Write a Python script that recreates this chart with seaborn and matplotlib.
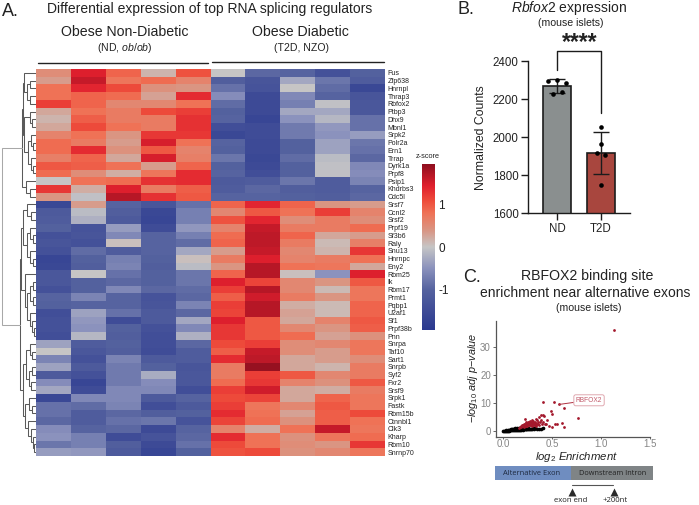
import numpy as np
import pandas as pd
import matplotlib
matplotlib.use("Agg")
import matplotlib.pyplot as plt
import seaborn as sns
from matplotlib.colors import LinearSegmentedColormap
from matplotlib.patches import Rectangle

sns.set_style("white")
plt.rcParams["font.family"] = ["Liberation Sans", "DejaVu Sans"]
plt.rcParams["mathtext.fontset"] = "custom"
plt.rcParams["mathtext.rm"] = "Liberation Sans"
plt.rcParams["mathtext.it"] = "Liberation Sans:italic"

W, H = 699, 505

# ---- panel A data
genes = ["Fus", "Zfp638", "Hnrnpl", "Thrap3", "Rbfox2", "Ptbp3", "Dhx9", "Mbnl1", "Srpk2", "Polr2a",
         "Ern1", "Trrap", "Dyrk1a", "Prpf8", "Psip1", "Khdrbs3", "Cdc5l", "Srsf7", "Ccnl2", "Srsf2",
         "Prpf19", "Sf3b6", "Raly", "Snu13", "Hnrnpc", "Eny2", "Rbm25", "Ik", "Rbm17", "Prmt1",
         "Pqbp1", "U2af1", "Sf1", "Prpf38b", "Pnn", "Snrpa", "Taf10", "Sart1", "Snrpb", "Syf2",
         "Fxr2", "Srsf9", "Srpk1", "Fastk", "Rbm15b", "Ctnnbl1", "Clk3", "Kharp", "Rbm10", "Snrnp70"]

zscores = [
    [.5, 1.45, .9, .15, 1.05, 0, -.95, -1.0, -1.4, -1.05],
    [.35, 1.6, .75, .85, .6, -1.1, -1.3, -.3, -.8, -1.15],
    [.8, 1.4, 1.1, .45, .4, -.85, -1.35, 0, -.9, -1.6],
    [.8, .9, .85, .3, 1.35, -.55, -1.55, -.6, -1.0, -1.3],
    [1.2, .9, .55, .55, .8, -.9, -1.55, -.7, -.05, -1.25],
    [.25, .8, .7, 1.1, 1.2, -1.05, -1.55, -.3, -.3, -1.25],
    [.15, .95, .7, .7, 1.3, -1.0, -1.65, -.5, -.15, -.85],
    [.25, 1.1, .8, .7, 1.3, -1.45, -1.5, -.75, -.45, -.85],
    [.6, .8, .4, 1.25, 1.25, -1.6, -1.5, -.75, -.5, -.4],
    [.85, .7, .35, 1.5, .8, -1.0, -1.55, -1.05, -.35, -.8],
    [.85, 1.35, .45, 1.0, .6, -1.05, -1.55, -1.05, -.35, -.85],
    [.65, .9, .25, 1.5, .65, -.8, -1.6, -.9, -.1, -.95],
    [1.0, .95, .8, .35, .9, -1.05, -1.55, -1.05, -.05, -.6],
    [.85, .5, .2, .75, 1.35, -1.0, -1.45, -1.05, -.05, -.55],
    [0, .8, .85, 1.3, 1.35, -1.2, -1.15, -.8, -1.15, -.65],
    [1.25, .2, 1.45, .7, .95, -1.15, -.95, -1.1, -1.15, -1.0],
    [.4, -.05, 1.7, 1.3, 1.0, -1.0, -1.0, -1.05, -1.1, -.95],
    [-1.6, .35, -1.0, -1.3, -.85, .9, 1.4, .9, .4, .35],
    [-1.2, -.1, -1.1, -1.6, -.7, .55, 1.0, .8, 1.2, .6],
    [-1.15, -.2, -1.2, -1.65, -.7, 1.05, 1.4, .5, .7, .5],
    [-1.05, -1.35, -.4, -1.5, -.45, .6, 1.6, .7, .7, .85],
    [-1.4, -1.3, -.6, -1.0, -.7, .85, 1.65, .9, .25, .35],
    [-1.3, -1.4, .05, -1.0, -.9, .9, 1.65, .7, .1, .65],
    [-1.4, -.9, -1.15, -1.0, -.3, .35, 1.6, .55, .15, 1.25],
    [-1.65, -1.05, -.7, -1.05, .05, .7, 1.45, .6, .7, .8],
    [-1.6, -1.1, -.65, -1.1, -.1, .4, 1.7, .8, .75, .25],
    [-1.25, 0, -.85, -1.05, -.8, .9, 1.7, .05, -.5, 1.45],
    [-1.25, -1.05, -.95, -1.05, -.8, 1.45, 1.15, .55, .4, 1.0],
    [-1.4, -1.05, -.6, -.95, -.9, 1.2, 1.7, .55, .1, .75],
    [-1.0, -.65, -1.0, -1.35, -.95, .95, 1.55, .7, .4, .75],
    [-1.05, -1.0, -1.0, -1.3, -.65, 1.2, 1.7, .2, .1, .9],
    [-1.45, -.35, -.85, -1.2, -.95, 1.15, 1.7, .3, .1, .9],
    [-1.4, -.45, -1.5, -1.2, -.3, 1.45, 1.0, .25, .6, 1.0],
    [-1.4, -.5, -1.05, -1.4, -.6, 1.25, 1.0, .55, .4, .95],
    [-1.45, -.15, -1.1, -1.45, -.2, 1.25, 1.0, .85, .3, .45],
    [-.35, -1.15, -1.05, -1.45, -.95, 1.1, 1.2, .5, .55, .75],
    [0, -1.25, -1.1, -1.5, -1.15, .95, 1.6, .5, .35, .75],
    [-.65, -1.4, -.65, -1.2, -1.15, 1.35, 1.65, .25, .35, .5],
    [-.35, -1.2, -.75, -1.05, -1.3, .7, 1.9, .25, .15, .7],
    [-1.2, -1.4, -.75, -.25, -1.25, .7, 1.2, 1.0, .55, .7],
    [-.55, -1.65, -.75, -.55, -1.25, .85, 1.25, .6, .45, 1.0],
    [-.3, -1.5, -.6, -.6, -1.45, 1.2, 1.55, .25, .2, .7],
    [-1.6, -.6, -.6, -1.2, -1.0, 1.1, 1.15, .25, .9, .75],
    [-.85, -.9, -.65, -1.45, -1.2, 1.2, .75, .55, 1.0, .75],
    [-.85, -1.15, -.95, -1.1, -1.05, 1.35, .8, .3, .95, 1.1],
    [-.95, -1.15, -.85, -.8, -1.35, 1.15, .85, .45, .95, .8],
    [-.55, -1.0, -.95, -1.55, -1.0, .6, .2, .8, 1.6, .75],
    [-.5, -.7, -1.5, -1.35, -.95, 1.35, .8, .45, .75, .85],
    [-.8, -.7, -1.1, -1.55, -.85, 1.1, .8, .5, .4, 1.25],
    [-.4, -.45, -1.2, -1.65, -1.05, 1.05, 1.1, .45, .55, .75],
]

# row dendrogram: [height, child, child], 0 is a leaf
top_a = [12, 0, [9, [6, 0, 0], [6, 0, 0]]]
top_b = [12, [6, 0, [4, 0, 0]], [8, [5, 0, [3, 0, 0]], [5, 0, [3, 0, 0]]]]
top_c = [10, 0, [6, 0, 0]]
bot_a = [13, [9, 0, [5, 0, 0]], [9, [6, 0, [3, 0, 0]], [6, 0, [3, 0, 0]]]]
bot_b = [11, 0, [9, [6, [3, 0, 0], [3, 0, 0]], [6, 0, [4, 0, [2, 0, 0]]]]]
bot_c = [10, [6, 0, [4, 0, 0]], [7, [4, 0, 0], [5, 0, 0]]]
bot_d = [11, [7, 0, [4, 0, 0]], [8, 0, [5, 0, [3, 0, [2, 0, 0]]]]]
row_tree = [34.5, [14, [13, top_a, top_b], top_c], [16, [15, bot_a, bot_b], [13, bot_c, bot_d]]]

# ---- panel B data
groups = ["ND", "T2D"]
group_means = [2268, 1918]
group_sd = [36, 110]
nd_counts = [2295, 2298, 2283, 2239, 2225]
nd_offsets = [-.21, .01, .21, .11, -.1]
t2d_counts = [2052, 1962, 1919, 1905, 1750]
t2d_offsets = [0, 0, -.1, .1, 0]

# ---- panel C data
red_x = [1.13, .405, .52, .57, .625, .49, .5, .77, .405, .39, .42, .37, .39, .34, .3, .22, .45, .43, .47, .5,
         .53, .55, .6, .62, .38, .36, .35, .33, .32, .31, .3, .29, .28, .27, .26, .25, .24, .23, .22, .21,
         .2, .19, .18, .34, .33, .31, .29, .28, .27, .25, .24, .36, .4, .41, .44, .3, .26, .23, .21, .17,
         .16, .18, .2, .22, .24, .26, .28, .3, .32, .34, .25, .27, .29, .31, .23, .21, .19, .35, .37, .33]
red_y = [36, 10.4, 10.4, 9.5, 8.2, 7, 6.2, 4.6, 5.9, 5.9, 5.5, 5, 4, 4.3, 4, 4.2, 3.8, 2.5, 1.9, 1.6,
         2.4, 2.5, 2.8, 1.5, 3.4, 3.1, 3.8, 3.4, 3, 3.6, 2.8, 3.2, 3.5, 2.7, 2.9, 2.3, 2.7, 2.1, 2.4, 2.0,
         1.9, 1.7, 1.5, 2.5, 2.2, 2.4, 2.2, 2.0, 2.2, 1.8, 1.8, 2.4, 2.6, 3.4, 2.6, 1.9, 3.2, 3.3, 1.6, 1.3,
         1.2, 1.9, 2.3, 1.8, 2.2, 2.4, 2.6, 2.3, 2.0, 1.9, 3.0, 3.1, 2.7, 3.0, 1.9, 2.5, 2.1, 2.7, 2.2, 2.9]
black_x = [.0, .01, .02, .03, .03, .04, .05, .05, .06, .06, .07, .07, .08, .08, .09, .09, .1, .1, .11, .11,
           .12, .12, .13, .13, .14, .14, .15, .15, .16, .16, .17, .17, .18, .18, .19, .19, .2, .2, .21, .21,
           .22, .22, .23, .24, .24, .25, .26, .26, .27, .28, .29, .3, .31, .32, .33, .35, .37, .39, .41, .14]
black_y = [.0, .05, .1, .1, .25, .2, .15, .35, .2, .45, .25, .5, .3, .6, .35, .7, .3, .8, .4, .85,
           .35, .95, .45, .8, .4, 1.1, .5, .9, .45, 1.2, .55, 1.0, .5, 1.25, .6, 1.1, .55, 1.3, .65, 1.1,
           .6, 1.2, .7, .65, 1.15, .75, .7, 1.1, .8, .75, .9, .8, .95, .85, 1.0, .9, .85, .8, 1.0, .8]
label_x = .57
label_y = 9.5


def px_axes(left, top, right, bottom):
    return fig.add_axes([left / W, 1 - bottom / H, (right - left) / W, (bottom - top) / H])


def draw_tree(ax, node, next_leaf):
    # returns row position and height of a node, leaves are taken in order
    if node == 0:
        y = next_leaf[0] + .5
        next_leaf[0] += 1
        return y, 0
    y1, h1 = draw_tree(ax, node[1], next_leaf)
    y2, h2 = draw_tree(ax, node[2], next_leaf)
    h = node[0]
    col = "#a8a8a8" if h > 30 else "#5a5a5a"
    ax.plot([h1, h, h, h2], [y1, y1, y2, y2], color=col, lw=.75, solid_joinstyle="miter")
    return (y1 + y2) / 2, h


fig = plt.figure(figsize=(W / 100, H / 100), dpi=100)

cmap = LinearSegmentedColormap.from_list("zscore", [
    (0, "#2b3990"), (.24, "#55629f"), (.372, "#8b92bd"), (.5, "#c6c6c6"), (.6, "#d99684"),
    (.705, "#ef7256"), (.78, "#ee4c3b"), (.87, "#e0202e"), (1, "#8f0f1f")])

# heatmap
ax_heat = px_axes(36, 69, 385, 456)
heat_df = pd.DataFrame(zscores, index=genes)
sns.heatmap(heat_df, cmap=cmap, vmin=-1.95, vmax=1.95, cbar=False, ax=ax_heat,
            xticklabels=False, yticklabels=True)
ax_heat.yaxis.tick_right()
ax_heat.tick_params(axis="y", length=0, pad=2, labelsize=5, labelrotation=0, labelcolor="#222222")
ax_heat.set_xlabel("")
ax_heat.set_ylabel("")

# dendrogram
ax_tree = px_axes(0, 69, 36, 456)
ax_tree.set_xlim(36, 0)
ax_tree.set_ylim(len(genes), 0)
ax_tree.axis("off")
draw_tree(ax_tree, row_tree, [0])

# colour bar
ax_cbar = px_axes(422, 164, 434, 330)
scale = np.linspace(1.95, -1.95, 256).reshape(-1, 1)
ax_cbar.imshow(scale, aspect="auto", cmap=cmap, vmin=-1.95, vmax=1.95, extent=[0, 1, -1.95, 1.95])
ax_cbar.set_xticks([])
ax_cbar.yaxis.tick_right()
ax_cbar.set_yticks([-1, 0, 1])
ax_cbar.set_yticklabels(["-1", "0", "1"], fontsize=8.5)
ax_cbar.tick_params(axis="y", length=0, pad=3, labelcolor="#222222")
sns.despine(ax=ax_cbar, left=True, right=True, top=True, bottom=True)

# panel B
ax_bar = px_axes(528.3, 61, 630, 213.3)
sns.barplot(x=groups, y=group_means, hue=groups, palette=["#8a8f8f", "#a8463e"], legend=False, width=.63,
            edgecolor="#1c1c1c", linewidth=1.2, saturation=1, ax=ax_bar)
ax_bar.errorbar([0, 1], group_means, yerr=group_sd, fmt="none", ecolor="#1c1c1c", elinewidth=1, capsize=5.8, capthick=1, zorder=4)
sns.scatterplot(x=nd_offsets, y=nd_counts, color="black", s=11, linewidth=0, zorder=5, ax=ax_bar)
sns.scatterplot(x=[1 + o for o in t2d_offsets], y=t2d_counts, color="black", s=11, linewidth=0, zorder=5, ax=ax_bar)
ax_bar.set_xlim(-.652, 1.66)
ax_bar.set_ylim(1600, 2400)
ax_bar.set_yticks([1600, 1800, 2000, 2200, 2400])
ax_bar.set_xticks([0, 1])
ax_bar.set_xticklabels(groups)
ax_bar.tick_params(axis="both", length=5, width=1, color="#1c1c1c", labelsize=8.3, labelcolor="#222222", pad=2, left=True, bottom=True)
ax_bar.set_ylabel("")
sns.despine(ax=ax_bar)
for side in ["left", "bottom"]:
    ax_bar.spines[side].set_linewidth(1)
    ax_bar.spines[side].set_color("#1c1c1c")
ax_bar.plot([0, 0, 1, 1], [2353, 2454, 2454, 2129], color="#1c1c1c", lw=1, clip_on=False)

# panel C
ax_sc = px_axes(495.7, 320.7, 650, 436.7)
sns.scatterplot(x=black_x, y=black_y, color="black", s=7, linewidth=0, ax=ax_sc)
sns.scatterplot(x=red_x, y=red_y, color="#a3182c", s=4, linewidth=0, ax=ax_sc)
ax_sc.set_xlim(-.074, 1.5)
ax_sc.set_ylim(-2.0, 39.4)
ax_sc.set_xticks([0, .5, 1, 1.5])
ax_sc.set_xticklabels(["0.0", "0.5", "1.0", "1.5"])
ax_sc.set_yticks([0, 10, 20, 30])
ax_sc.tick_params(axis="x", length=1.5, width=.7, color="#666666", labelsize=7, labelcolor="#858585", pad=0.5, bottom=True)
ax_sc.tick_params(axis="y", length=2, width=.7, color="#666666", labelsize=7, labelcolor="#858585", pad=1.5, left=True)
sns.despine(ax=ax_sc)
for side in ["left", "bottom"]:
    ax_sc.spines[side].set_linewidth(.9)
    ax_sc.spines[side].set_color("#555555")
ax_sc.annotate("RBFOX2", xy=(label_x, label_y), xytext=(.878, 11), fontsize=4.8, color="#c25a6a", ha="center", va="center",
               bbox=dict(boxstyle="round,pad=0.3", fc="white", ec="#e0a8b0", lw=.7),
               arrowprops=dict(arrowstyle="-", color="#b03040", lw=.7, shrinkA=0, shrinkB=0))

# text and shapes placed in pixel space
ax_top = fig.add_axes([0, 0, 1, 1], facecolor="none")
ax_top.set_xlim(0, W)
ax_top.set_ylim(H, 0)
ax_top.axis("off")
dark = "#222222"


def label(x, y, s, size, **kw):
    kw.setdefault("ha", "center")
    ax_top.text(x, y, s, fontsize=size, color=kw.pop("color", dark), va="center", **kw)


label(2, 11, "A.", 13, ha="left")
label(210, 8.5, "Differential expression of top RNA splicing regulators", 10)
label(125, 32, "Obese Non-Diabetic", 10.2)
label(125, 48, r"(ND, $\mathit{ob/ob}$)", 7.6)
label(300, 32, "Obese Diabetic", 10.2)
label(302, 48, "(T2D, NZO)", 7.6)
ax_top.plot([38, 208], [62.5, 62.5], color=dark, lw=1)
ax_top.plot([212, 384], [62, 62], color=dark, lw=1)
label(427.5, 157, "z-score", 5.3)

label(466, 9, "B.", 13, ha="center")
label(569, 8, r"$\mathit{Rbfox2}$ expression", 10)
label(571, 23, "(mouse islets)", 7.6)
label(580, 43, "****", 16.5, fontweight="bold")
label(480.5, 137.5, "Normalized Counts", 8.8, rotation=90)

label(472, 278, "C.", 13, ha="center")
label(587, 276, "RBFOX2 binding site", 10.2)
label(585, 293, "enrichment near alternative exons", 10)
label(589, 308, "(mouse islets)", 7.6)
label(473, 378, r"$\mathit{-log}_{10}\ \mathit{adj\ p\mathrm{-}value}$", 7.8, rotation=90)
label(576, 457, r"$\mathit{log}_{2}\ \mathit{Enrichment}$", 8.2)

ax_top.add_patch(Rectangle((495, 466), 75.7, 14, fc="#6f8dc0", ec="none"))
ax_top.add_patch(Rectangle((570.7, 466), 82, 14, fc="#7f8486", ec="none"))
label(532, 473.2, "Alternative Exon", 5.4, family="Open Sans", color="#1e2a40")
label(613, 473.5, "Downstream Intron", 5.35, family="Open Sans", color="#222222")
ax_top.plot([572, 613], [485, 485], color="#555555", lw=.8)
ax_top.plot([572, 613.7], [491.7, 491.7], ls="none", marker="^", ms=6, color="#2a2a2a", mec="none")
label(570.7, 500.5, "exon end", 5.6, family="Open Sans")
label(615, 500.5, "+200nt", 5.6, family="Open Sans")

fig.savefig("out.png", dpi=100)
